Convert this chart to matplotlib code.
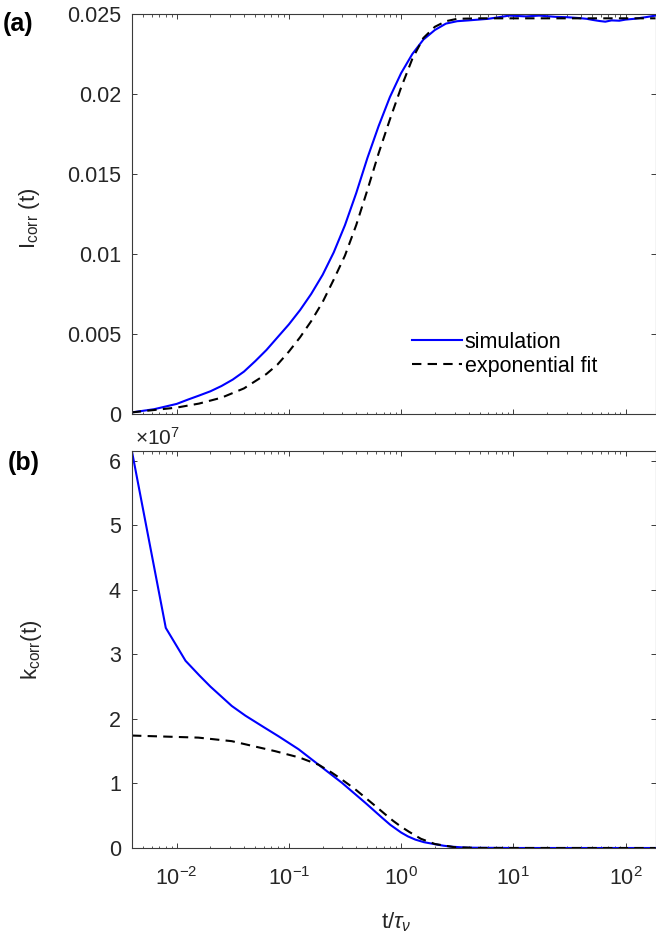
import matplotlib
matplotlib.use("Agg")
import matplotlib.pyplot as plt
from matplotlib.ticker import FixedLocator, FixedFormatter, LogLocator, LogFormatterMathtext, NullFormatter

plt.rcParams['font.family'] = ['Liberation Sans', 'DejaVu Sans']
plt.rcParams['mathtext.fontset'] = 'custom'
plt.rcParams['mathtext.rm'] = 'Liberation Sans'
plt.rcParams['mathtext.it'] = 'Liberation Sans:italic'
plt.rcParams['mathtext.bf'] = 'Liberation Sans:bold'

# ---- data ----
# panel (a): I_corr(t)
ta_sim = [0.00398, 0.0063, 0.01, 0.0126, 0.0158, 0.02, 0.0251, 0.0316, 0.0398, 0.0501,
          0.0631, 0.0794, 0.1, 0.126, 0.158, 0.2, 0.251, 0.316, 0.398, 0.501, 0.631,
          0.794, 1.0, 1.26, 1.58, 2.0, 2.51, 3.16, 3.98, 6.0, 9.2, 13, 17, 24, 30, 38,
          45, 52, 59, 66, 75, 88, 100, 120, 151, 185]
Ia_sim = [0.0001, 0.0003, 0.00063, 0.0009, 0.00115, 0.00142, 0.00175, 0.00215,
          0.00265, 0.0033, 0.0040, 0.0048, 0.0056, 0.0065, 0.0075, 0.0087, 0.0101,
          0.0118, 0.0138, 0.0160, 0.0180, 0.0198, 0.0213, 0.0225, 0.0234, 0.0240,
          0.0244, 0.02455, 0.0246, 0.0247, 0.0249, 0.02485, 0.0249, 0.02482, 0.0248,
          0.02475, 0.0247, 0.02462, 0.02456, 0.02452, 0.0246, 0.02458, 0.02465,
          0.0247, 0.0248, 0.0249]
ta_fit = [0.00398, 0.0063, 0.01, 0.0158, 0.0251, 0.0398, 0.0631, 0.0794, 0.1, 0.126,
          0.158, 0.2, 0.251, 0.316, 0.398, 0.501, 0.631, 0.794, 1.0, 1.26, 1.58, 2.0,
          2.51, 3.16, 5.01, 185]
Ia_fit = [0.0001, 0.00025, 0.0004, 0.00065, 0.00102, 0.0016, 0.0025, 0.0031, 0.0039,
          0.0048, 0.0058, 0.0070, 0.0084, 0.0099, 0.0118, 0.0140, 0.0163, 0.0184,
          0.0204, 0.0222, 0.0235, 0.0242, 0.02455, 0.0247, 0.02473, 0.02473]

# panel (b): k_corr(t)
tb_sim = [0.004, 0.008, 0.012, 0.016, 0.020, 0.031, 0.041, 0.060, 0.081, 0.122, 0.184,
          0.297, 0.48, 0.676, 0.8, 1.0, 1.15, 1.34, 1.6, 2.03, 2.4, 2.85, 3.5, 4.0, 10, 185]
kb_sim = [6.14e7, 3.41e7, 2.90e7, 2.67e7, 2.50e7, 2.20e7, 2.05e7, 1.87e7, 1.73e7,
          1.53e7, 1.29e7, 1.01e7, 0.70e7, 0.47e7, 0.36e7, 0.24e7, 0.18e7, 0.13e7,
          0.09e7, 0.057e7, 0.035e7, 0.02e7, 0.01e7, 0.005e7, 0.0, 0.0]
tb_fit = [0.004, 0.0156, 0.031, 0.0755, 0.125, 0.184, 0.24, 0.297, 0.39, 0.48, 0.6,
          0.724, 0.85, 1.0, 1.18, 1.5, 2.0, 3.0, 5.0, 185]
kb_fit = [1.742e7, 1.71e7, 1.655e7, 1.50e7, 1.40e7, 1.29e7, 1.17e7, 1.06e7, 0.91e7,
          0.78e7, 0.64e7, 0.52e7, 0.42e7, 0.33e7, 0.25e7, 0.143e7, 0.062e7, 0.012e7,
          0.0004e7, 0.0]

ticks_a = [0, 0.005, 0.01, 0.015, 0.02, 0.025]
ticklabels_a = ['0', '0.005', '0.01', '0.015', '0.02', '0.025']
ticks_b = [0, 1e7, 2e7, 3e7, 4e7, 5e7, 6e7]
ticklabels_b = ['0', '1', '2', '3', '4', '5', '6']

W, H = 656, 943
fig = plt.figure(figsize=(W / 100, H / 100), dpi=100)

left = 132 / W
width = 655.5 / W - left
axa = fig.add_axes([left, 1 - 414 / H, width, (414 - 14) / H])
axb = fig.add_axes([left, 1 - 848 / H, width, (848 - 451) / H])

spine_c = '#3a3a3a'
fs = 15.5

for ax in (axa, axb):
    ax.set_xscale('log')
    ax.set_xlim(0.004, 185)
    for s in ax.spines.values():
        s.set_color(spine_c)
        s.set_linewidth(0.8)
    ax.tick_params(which='both', direction='in', top=True, right=True, colors=spine_c,
                   labelcolor='#262626', labelsize=fs)
    ax.tick_params(which='major', length=3.6, width=0.7)
    ax.tick_params(which='minor', length=1.8, width=0.6)
    ax.tick_params(axis='x', pad=14)
    ax.tick_params(axis='y', pad=8)
    ax.xaxis.set_major_locator(LogLocator(base=10, numticks=20))
    ax.xaxis.set_minor_locator(LogLocator(base=10, subs=range(2, 10), numticks=20))
    ax.xaxis.set_minor_formatter(NullFormatter())

axa.plot(ta_sim, Ia_sim, color=(0, 0, 1), lw=1.5, label='simulation')
axa.plot(ta_fit, Ia_fit, color='black', lw=1.5, ls=(0, (4.5, 3)), label='exponential fit')
axa.set_ylim(0, 0.025)
axa.yaxis.set_major_locator(FixedLocator(ticks_a))
axa.yaxis.set_major_formatter(FixedFormatter(ticklabels_a))
axa.xaxis.set_major_formatter(NullFormatter())

axb.plot(tb_sim, kb_sim, color=(0, 0, 1), lw=1.5)
axb.plot(tb_fit, kb_fit, color='black', lw=1.5, ls=(0, (4.5, 3)))
axb.set_ylim(0, 6.15e7)
axb.yaxis.set_major_locator(FixedLocator(ticks_b))
axb.yaxis.set_major_formatter(FixedFormatter(ticklabels_b))
axb.xaxis.set_major_formatter(LogFormatterMathtext())

leg = axa.legend(loc='upper left', bbox_to_anchor=(412 / W, 1 - 332 / H),
                 bbox_transform=fig.transFigure, frameon=False, fontsize=fs,
                 handlelength=2.3, handletextpad=0.15, labelspacing=0.12,
                 borderpad=0, borderaxespad=0)

txt_c = '#262626'
fig.text(3 / W, 1 - 24 / H, '(a)', fontsize=18, fontweight='bold', va='center', ha='left', color='black')
fig.text(8 / W, 1 - 463 / H, '(b)', fontsize=18, fontweight='bold', va='center', ha='left', color='black')
fig.text(29 / W, 1 - 218 / H, r'I$_{\mathrm{corr}}$ (t)', rotation=90, fontsize=16,
         ha='center', va='center', color=txt_c)
fig.text(32 / W, 1 - 650 / H, r'k$_{\mathrm{corr}}$(t)', rotation=90, fontsize=16,
         ha='center', va='center', color=txt_c)
fig.text(396 / W, 1 - 922 / H, r't/$\tau_\nu$', fontsize=16, ha='center', va='center', color=txt_c)
fig.text(135 / W, 1 - 445 / H, r'$\times$10$^{7}$', fontsize=15, ha='left', va='baseline', color=txt_c)

fig.savefig('out.png', dpi=100)
